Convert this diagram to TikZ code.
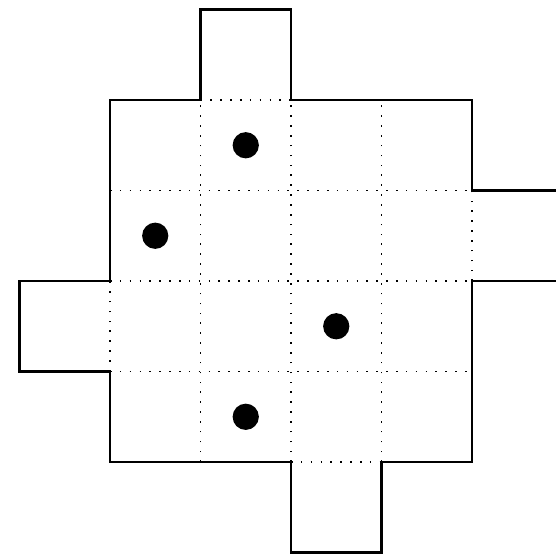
\documentclass[tikz,border=0pt]{standalone}
\usepackage{tikz}

\tikzset{
  outline/.style={line width=0.7pt},
  gridline/.style={line width=0.5pt, dash pattern=on 0.5pt off 2.6pt},
  token/.style={circle, fill=black, inner sep=0pt, minimum size=0.29cm}
}

\begin{document}
\begin{tikzpicture}

\useasboundingbox (-1.215, -1.006) rectangle (4.928, 5.105);

% Dotted cell lines
\foreach \i in {1,2,3} {
  \draw[gridline] (\i, 0) -- (\i, 4);
  \draw[gridline] (0, \i) -- (4, \i);
}
\draw[gridline] (1, 4) -- (2, 4);
\draw[gridline] (2, 0) -- (3, 0);
\draw[gridline] (0, 1) -- (0, 2);
\draw[gridline] (4, 2) -- (4, 3);

% Board outline with the four tabs
\draw[outline] (4, 3) -- (4, 4) -- (2, 4) -- (2, 5) -- (1, 5) -- (1, 4)
  -- (0, 4) -- (0, 2) -- (-1, 2) -- (-1, 1) -- (0, 1) -- (0, 0)
  -- (2, 0) -- (2, -1) -- (3, -1) -- (3, 0) -- (4, 0) -- (4, 2);
% Right tab runs off the edge
\draw[outline] (4, 2) -- (4.95, 2);
\draw[outline] (4, 3) -- (4.95, 3);

% Tokens
\node[token] (t1) at (1.5, 3.5) {};
\node[token] (t2) at (0.5, 2.5) {};
\node[token] (t3) at (2.5, 1.5) {};
\node[token] (t4) at (1.5, 0.5) {};

\end{tikzpicture}
\end{document}
